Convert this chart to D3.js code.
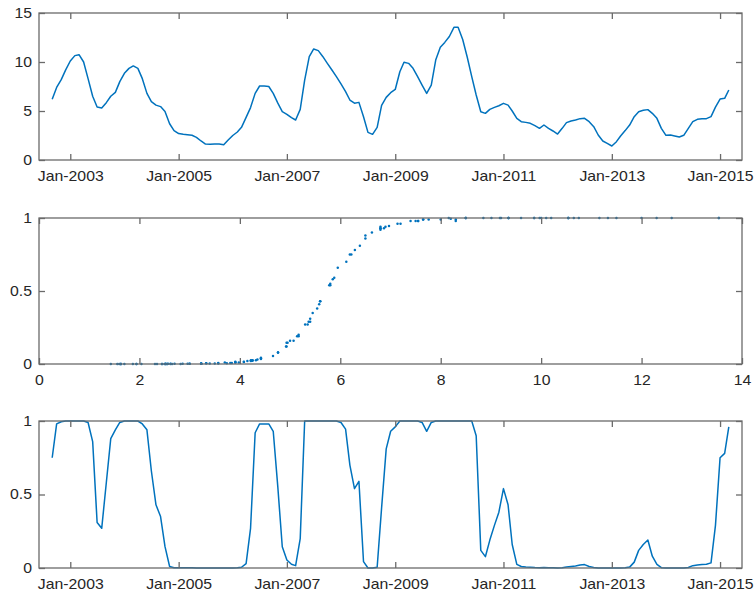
<!DOCTYPE html>
<html>
<head>
<meta charset="utf-8">
<script src="https://cdn.jsdelivr.net/npm/d3@7"></script>
<style>
  body { margin: 0; background: #fff; }
  text { font-family: "Liberation Sans", Arial, sans-serif; }
</style>
</head>
<body>
<svg id="chart" width="756" height="599"></svg>
<script>
// Monthly series, Sep-2002 .. Mar-2015
const firstMonth = new Date(2002, 8, 1);
const lastMonth = new Date(2015, 2, 1);

// top panel: level of the indicator
const levels = [
  6.19, 7.4, 8.2, 9.2,
  10.1, 10.65, 10.75, 10.0, 8.3, 6.5, 5.4, 5.3, 5.85, 6.5, 6.9, 8.0,
  8.85, 9.35, 9.6, 9.35, 8.3, 6.8, 5.95, 5.6, 5.45, 4.95, 3.7, 3.0,
  2.7, 2.62, 2.57, 2.52, 2.31, 1.94, 1.63, 1.6, 1.63, 1.63, 1.56, 2.04,
  2.5, 2.86, 3.33, 4.35, 5.35, 6.8, 7.55, 7.55, 7.5, 6.8, 5.8, 4.93,
  4.66, 4.32, 4.08, 5.17, 8.16, 10.54, 11.33, 11.16, 10.54, 9.86, 9.18, 8.5,
  7.76, 6.97, 6.12, 5.8, 5.88, 4.42, 2.82, 2.62, 3.33, 5.58, 6.39, 6.87,
  7.2, 9.01, 9.97, 9.86, 9.35, 8.5, 7.65, 6.8, 7.65, 10.2, 11.5, 12.0,
  12.6, 13.54, 13.54, 12.3, 10.54, 8.5, 6.63, 4.92, 4.76, 5.17, 5.37, 5.54,
  5.78, 5.6, 5.0, 4.25, 3.91, 3.84, 3.74, 3.5, 3.23, 3.57, 3.23, 2.96,
  2.65, 3.23, 3.81, 3.98, 4.08, 4.22, 4.25, 3.91, 3.4, 2.55, 1.94, 1.7,
  1.43, 1.87, 2.45, 3.0, 3.57, 4.42, 4.93, 5.07, 5.14, 4.76, 4.25, 3.23,
  2.52, 2.55, 2.45, 2.35, 2.52, 3.23, 3.91, 4.15, 4.22, 4.22, 4.42, 5.4,
  6.22, 6.29, 7.14
];

// bottom panel: probability for each month
const probs = [
  0.75, 0.98, 0.995, 1.0,
  1.0, 1.0, 1.0, 1.0, 0.99, 0.86, 0.31, 0.27, 0.58, 0.88, 0.94, 0.99,
  1.0, 1.0, 1.0, 1.0, 0.98, 0.94, 0.66, 0.43, 0.35, 0.145, 0.01, 0.002,
  0.001, 0.001, 0.001, 0.001, 0.0, 0.0, 0.0, 0.0, 0.0, 0.0, 0.0, 0.0,
  0.0, 0.002, 0.005, 0.03, 0.27, 0.92, 0.98, 0.98, 0.98, 0.93, 0.55, 0.145,
  0.054, 0.025, 0.016, 0.2, 1.0, 1.0, 1.0, 1.0, 1.0, 1.0, 1.0, 1.0,
  0.99, 0.945, 0.7, 0.54, 0.59, 0.043, 0.0, 0.0, 0.005, 0.41, 0.81, 0.93,
  0.96, 1.0, 1.0, 1.0, 1.0, 1.0, 0.99, 0.93, 0.99, 1.0, 1.0, 1.0,
  1.0, 1.0, 1.0, 1.0, 1.0, 1.0, 0.9, 0.12, 0.077, 0.19, 0.29, 0.38,
  0.54, 0.43, 0.16, 0.025, 0.01, 0.007, 0.005, 0.003, 0.002, 0.003, 0.002, 0.001,
  0.0005, 0.002, 0.006, 0.01, 0.013, 0.02, 0.023, 0.01, 0.003, 0.0005, 0.0, 0.0,
  0.0, 0.0, 0.0005, 0.002, 0.006, 0.04, 0.12, 0.16, 0.19, 0.08, 0.025, 0.002,
  0.0005, 0.0005, 0.0005, 0.0, 0.0005, 0.003, 0.016, 0.02, 0.023, 0.025, 0.035, 0.29,
  0.75, 0.78, 0.96
];

// tick values
const dateTicks = [2003, 2005, 2007, 2009, 2011, 2013, 2015].map(y => new Date(y, 0, 1));
const levelTicks = [0, 5, 10, 15];
const levelScatterTicks = [0, 2, 4, 6, 8, 10, 12, 14];
const probTicks = [0, 0.5, 1];

const months = d3.timeMonth.range(firstMonth, d3.timeMonth.offset(lastMonth, 1));
const series = months.map((m, i) => ({date: m, level: levels[i], prob: probs[i]}));

const blue = "#0072BD";
const axisColor = "#6a6a6a";
const labelColor = "#262626";
const stretch = 1.13;   // labels in the original look horizontally stretched

const svg = d3.select("#chart");

const left = 39, right = 742;
const panels = [
  {top: 13, bottom: 160},
  {top: 218, bottom: 364},
  {top: 421, bottom: 568}
];

const xTime = d3.scaleTime()
  .domain([new Date(2002, 5, 4), new Date(2015, 4, 29)])
  .range([left, right]);
const xLevel = d3.scaleLinear().domain([0, 14]).range([left, right]);

/*
** Draws a boxed axes with ticks inside on all four sides (matlab "box on")
*/
const drawFrame = (p, xScale, xTicks, xFmt, yScale, yTicks, yFmt) => {
  const g = svg.append("g").attr("class", "frame");
  const tl = 6;

  const bottomAxis = d3.axisBottom(xScale).tickValues(xTicks).tickFormat(xFmt).tickSizeInner(-tl).tickSizeOuter(0).tickPadding(11);
  const topAxis = d3.axisTop(xScale).tickValues(xTicks).tickFormat("").tickSizeInner(-tl).tickSizeOuter(0);
  const leftAxis = d3.axisLeft(yScale).tickValues(yTicks).tickFormat(yFmt).tickSizeInner(-tl).tickSizeOuter(0).tickPadding(7);
  const rightAxis = d3.axisRight(yScale).tickValues(yTicks).tickFormat("").tickSizeInner(-tl).tickSizeOuter(0);

  g.append("g").attr("transform", `translate(0,${p.bottom})`).call(bottomAxis);
  g.append("g").attr("transform", `translate(0,${p.top})`).call(topAxis);
  g.append("g").attr("transform", `translate(${left},0)`).call(leftAxis);
  g.append("g").attr("transform", `translate(${right},0)`).call(rightAxis);

  g.selectAll(".domain").remove();
  g.selectAll(".tick line").attr("stroke", axisColor).attr("stroke-width", 1.3);
  g.selectAll(".tick text")
    .attr("fill", labelColor)
    .attr("font-size", "14px")
    .attr("x", function() { return (+d3.select(this).attr("x") || 0) / stretch; })
    .attr("transform", `scale(${stretch},1)`);

  g.append("rect")
    .attr("x", left).attr("y", p.top)
    .attr("width", right - left).attr("height", p.bottom - p.top)
    .attr("fill", "none")
    .attr("stroke", axisColor)
    .attr("stroke-width", 1.3);
};

const dateFmt = d3.timeFormat("%b-%Y");
const numFmt = d => d3.format("")(d);

// top panel: level over time
const yLevel = d3.scaleLinear().domain([0, 15]).range([panels[0].bottom, panels[0].top]);
svg.append("path")
  .datum(series)
  .attr("fill", "none")
  .attr("stroke", blue)
  .attr("stroke-width", 1.5)
  .attr("stroke-linejoin", "round")
  .attr("d", d3.line().x(d => xTime(d.date)).y(d => yLevel(d.level)));
drawFrame(panels[0], xTime, dateTicks, dateFmt, yLevel, levelTicks, numFmt);

// middle panel: probability against level
const yProbMid = d3.scaleLinear().domain([0, 1]).range([panels[1].bottom, panels[1].top]);
svg.append("g").selectAll("circle")
  .data(series)
  .enter()
    .append("circle")
    .attr("cx", d => xLevel(d.level))
    .attr("cy", d => yProbMid(d.prob))
    .attr("r", 1.25)
    .attr("fill", blue);
drawFrame(panels[1], xLevel, levelScatterTicks, numFmt, yProbMid, probTicks, numFmt);

// bottom panel: probability over time
const yProb = d3.scaleLinear().domain([0, 1]).range([panels[2].bottom, panels[2].top]);
svg.append("path")
  .datum(series)
  .attr("fill", "none")
  .attr("stroke", blue)
  .attr("stroke-width", 1.5)
  .attr("stroke-linejoin", "round")
  .attr("d", d3.line().x(d => xTime(d.date)).y(d => yProb(d.prob)));
drawFrame(panels[2], xTime, dateTicks, dateFmt, yProb, probTicks, numFmt);
</script>
</body>
</html>
